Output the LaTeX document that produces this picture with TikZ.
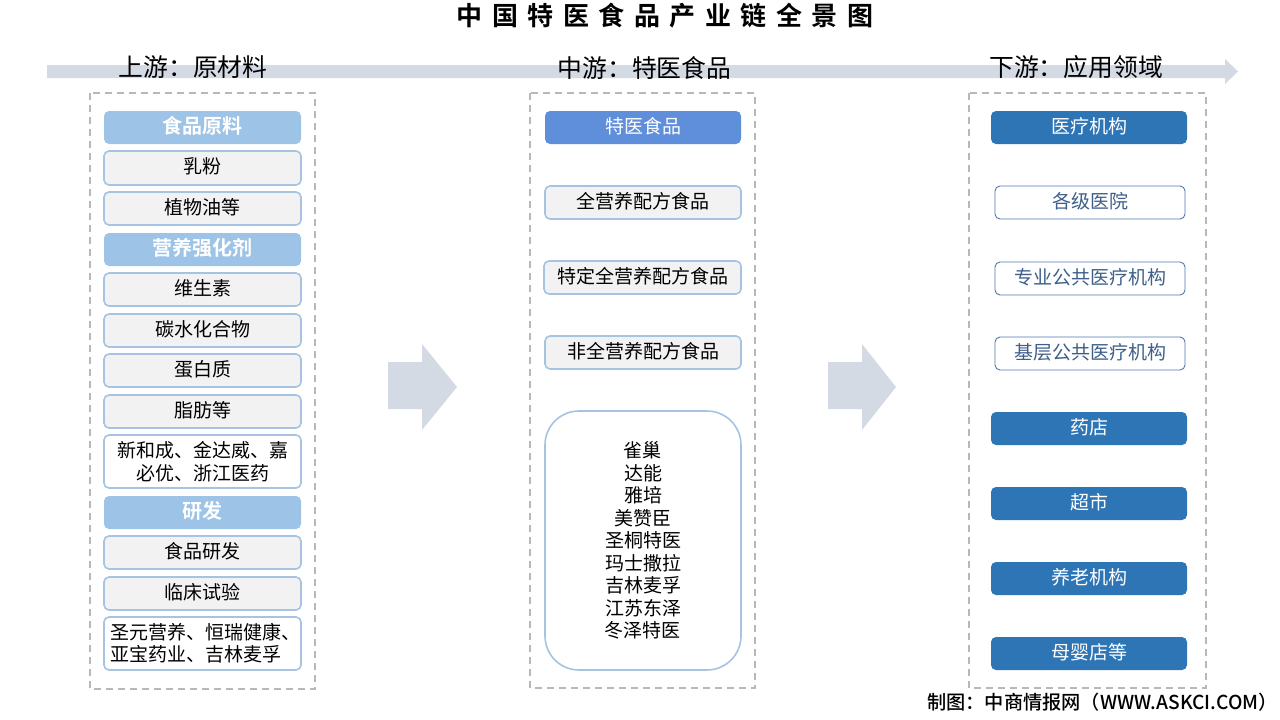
\documentclass[tikz,border=0pt]{standalone}
\usepackage{fontspec}
\setmainfont{Noto Sans CJK SC}
\newfontfamily\cjkbold{Noto Sans CJK SC Bold}
\newfontfamily\cjkmed{Noto Sans CJK SC Medium}
\usetikzlibrary{calc}
\tikzset{
  x=1pt,y=-1pt,
  box/.style={rectangle,rounded corners=5pt,inner sep=0pt,align=center,font=\fontsize{19}{22.5}\selectfont},
  headA/.style={box,fill=headlight,text=white,font=\cjkbold\fontsize{20}{22}\selectfont},
  headB/.style={box,fill=headmid,text=white},
  headC/.style={box,fill=headdark,text=white},
  grayitem/.style={box,fill=itemgray,draw=edgelight,line width=1.6pt,text=black},
  whiteitem/.style={box,fill=white,draw=edgelight,line width=1.6pt,text=black},
  lineitem/.style={box,fill=white,draw=edgedark,line width=0.9pt,text=textblue},
  frame/.style={draw=framegray,line width=1.4pt,dash pattern=on 7pt off 5pt},
  phase/.style={inner sep=0pt,font=\fontsize{24.8}{28}\selectfont,text=black},
  band/.style={fill=bandgray,draw=none},
}
\definecolor{headlight}{HTML}{9DC3E6}
\definecolor{headmid}{HTML}{5F8EDB}
\definecolor{headdark}{HTML}{2E75B6}
\definecolor{itemgray}{HTML}{F2F2F2}
\definecolor{edgelight}{HTML}{A6C4E2}
\definecolor{edgedark}{HTML}{4F78AE}
\definecolor{textblue}{HTML}{3E5F8A}
\definecolor{framegray}{HTML}{B8B8B8}
\definecolor{bandgray}{HTML}{D4DAE4}
% name, x0, y0, x1, y1, style, text
\newcommand{\bxm}[7]{\node[#6,minimum width=#4pt-#2pt,minimum height=#5pt-#3pt] (#1) at ({(#2+#4)/2},{(#3+#5)/2}) {#7};}
\newcommand{\bx}[7]{\bxm{#1}{#2}{#3}{#4}{#5}{#6}{\raisebox{1.5pt}[\height][\depth]{#7}}}
\begin{document}
\begin{tikzpicture}
\useasboundingbox (0,0) rectangle (1280,720);
\fill[white] (0,0) rectangle (1280,720);
% banner
\fill[band] (47,65) -- (1225,65) -- (1225,59) -- (1238,71.5) -- (1225,84) -- (1225,78) -- (47,78) -- cycle;
% title
\node[inner sep=0pt] (title) at (665,16) {\cjkbold\fontsize{26}{30}\selectfont 中\hspace{9.5pt}国\hspace{9.5pt}特\hspace{9.5pt}医\hspace{9.5pt}食\hspace{9.5pt}品\hspace{9.5pt}产\hspace{9.5pt}业\hspace{9.5pt}链\hspace{9.5pt}全\hspace{9.5pt}景\hspace{9.5pt}图};
% phases
\node[phase] (p1) at (193,67.5) {上游：原材料};
\node[phase] (p2) at (644.5,67.5) {中游：特医食品};
\node[phase] (p3) at (1076,67.5) {下游：应用领域};
% frames
\draw[frame] (90,93) rectangle (315,689);
\draw[frame] (530,93) rectangle (755,688);
\draw[frame] (969,93) rectangle (1206,688);
% big arrows
\fill[band] (388,362) -- (422,362) -- (422,344) -- (457,387) -- (422,430) -- (422,409) -- (388,409) -- cycle;
\fill[band] (828,362) -- (862,362) -- (862,344) -- (896,387) -- (862,430) -- (862,409) -- (828,409) -- cycle;
% left column
\bx{a1}{104}{111}{301}{144}{headA}{食品原料}
\bx{a2}{104}{151}{301}{185}{grayitem}{乳粉}
\bx{a3}{104}{192}{301}{225}{grayitem}{植物油等}
\bx{a4}{104}{233}{301}{266}{headA}{营养强化剂}
\bx{a5}{104}{273}{301}{306}{grayitem}{维生素}
\bx{a6}{104}{314}{301}{347}{grayitem}{碳水化合物}
\bx{a7}{104}{354}{301}{387}{grayitem}{蛋白质}
\bx{a8}{104}{395}{301}{428}{grayitem}{脂肪等}
\bxm{a9}{104}{435}{301}{488}{whiteitem}{新和成、金达威、嘉\\必优、浙江医药}
\bx{a10}{104}{496}{301}{529}{headA}{研发}
\bx{a11}{104}{536}{301}{569}{grayitem}{食品研发}
\bx{a12}{104}{577}{301}{610}{grayitem}{临床试验}
\bxm{a13}{104}{617}{301}{670}{whiteitem,align=left}{\hspace*{5pt}圣元营养、恒瑞健康、\\\hspace*{5pt}亚宝药业、吉林麦孚}
% middle column
\bx{b1}{545}{111}{741}{144}{headB}{特医食品}
\bx{b2}{545}{186}{741}{219}{grayitem}{全营养配方食品}
\bx{b3}{544}{261}{741}{294}{grayitem}{特定全营养配方食品}
\bx{b4}{545}{336}{741}{369}{grayitem}{非全营养配方食品}
\node[whiteitem,rounded corners=34pt,minimum width=196pt,minimum height=259pt,font=\fontsize{19}{22.5}\selectfont] (b5) at (643,540.5) {雀巢\hspace*{2pt}\\达能\hspace*{2pt}\\雅培\hspace*{2pt}\\美赞臣\hspace*{2pt}\\圣桐特医\hspace*{2pt}\\玛士撒拉\hspace*{2pt}\\吉林麦孚\hspace*{2pt}\\江苏东泽\hspace*{2pt}\\冬泽特医\hspace*{2pt}};
% right column
\bx{c1}{991}{111}{1187}{144}{headC}{医疗机构}
\bx{c2}{995}{186}{1185}{219}{lineitem}{各级医院}
\bx{c3}{995}{262}{1185}{295}{lineitem}{专业公共医疗机构}
\bx{c4}{995}{337}{1185}{370}{lineitem}{基层公共医疗机构}
\bx{c5}{991}{412}{1187}{445}{headC}{药店}
\bx{c6}{991}{487}{1187}{520}{headC}{超市}
\bx{c7}{991}{562}{1187}{595}{headC}{养老机构}
\bx{c8}{991}{637}{1187}{670}{headC}{母婴店等}
% source
\node[inner sep=0pt,anchor=east] (src) at (1278,702) {\cjkmed\fontsize{19.2}{22}\selectfont 制图：中商情报网（WWW.ASKCI.COM）};
\end{tikzpicture}
\end{document}
